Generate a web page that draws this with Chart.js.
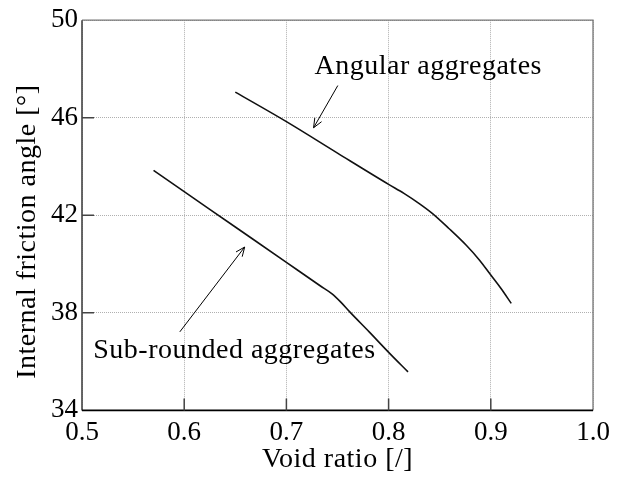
<!DOCTYPE html>
<html lang="en">
<head>
<meta charset="UTF-8">
<title>Internal friction angle vs void ratio</title>
<script src="https://cdn.jsdelivr.net/npm/chart.js"></script>
<style>
    body { margin: 0; padding: 0; background: #fff; }
    #frictionChart { display: block; }
</style>
</head>
<body>
<canvas id="frictionChart" width="617" height="481"></canvas>
<script>
    // values
    const angularVoid     = [0.650, 0.700, 0.750, 0.800, 0.815, 0.830, 0.843, 0.859, 0.876, 0.889, 0.900, 0.910, 0.920];
    const angularFriction = [47.05, 45.84, 44.55, 43.27, 42.90, 42.48, 42.07, 41.46, 40.77, 40.16, 39.55, 39.00, 38.39];

    const roundedVoid     = [0.570, 0.600, 0.650, 0.700, 0.733, 0.745, 0.753, 0.762, 0.781, 0.801, 0.819];
    const roundedFriction = [43.84, 42.97, 41.52, 40.07, 39.11, 38.77, 38.45, 38.04, 37.22, 36.34, 35.58];

    const xTicks = [0.5, 0.6, 0.7, 0.8, 0.9, 1.0];
    const yTicks = [34, 38, 42, 46, 50];

    // annotation labels: [text, x, y] and arrows: [fromX, fromY, toX, toY]
    const labels = [
        ['Angular aggregates', 0.7275, 47.80],
        ['Sub-rounded aggregates', 0.511, 36.14]
    ];
    const arrows = [
        [0.7503, 47.32, 0.7266, 45.59],
        [0.5957, 37.22, 0.6592, 40.70]
    ];

    const xTitle = 'Void ratio [/]';
    const yTitle = 'Internal friction angle [\u00b0]';

    const serif = '"Liberation Serif", "DejaVu Serif", serif';

    function toPoints(xs, ys) {
        return xs.map((x, i) => ({ x: x, y: ys[i] }));
    }

    const framePlugin = {
        id: 'frame',
        afterDraw(chart) {
            const ctx = chart.ctx;
            const a = chart.chartArea;
            const xs = chart.scales.x, ys = chart.scales.y;
            ctx.save();

            // frame: top/right light, left/bottom dark
            ctx.lineWidth = 1.3;
            ctx.strokeStyle = '#777';
            ctx.beginPath();
            ctx.moveTo(a.left, a.top); ctx.lineTo(a.right, a.top); ctx.lineTo(a.right, a.bottom);
            ctx.stroke();
            ctx.lineWidth = 1.6;
            ctx.strokeStyle = '#444';
            ctx.beginPath();
            ctx.moveTo(a.left, a.top); ctx.lineTo(a.left, a.bottom);
            ctx.stroke();
            ctx.strokeStyle = '#000';
            ctx.beginPath();
            ctx.moveTo(a.left, a.bottom); ctx.lineTo(a.right, a.bottom);
            ctx.stroke();

            // inward tick marks
            ctx.lineWidth = 1.5;
            ctx.strokeStyle = '#444';
            ctx.beginPath();
            xTicks.slice(1, -1).forEach(v => {
                const px = xs.getPixelForValue(v);
                ctx.moveTo(px, a.bottom); ctx.lineTo(px, a.bottom - 12);
            });
            yTicks.slice(1, -1).forEach(v => {
                const py = ys.getPixelForValue(v);
                ctx.moveTo(a.left, py); ctx.lineTo(a.left + 12, py);
            });
            ctx.stroke();

            ctx.fillStyle = '#000';
            ctx.font = '28px ' + serif;
            ctx.letterSpacing = '0.5px';
            ctx.textBaseline = 'alphabetic';

            // x axis title
            ctx.textAlign = 'center';
            ctx.fillText(xTitle, (a.left + a.right) / 2, 467);

            // y axis title
            ctx.translate(35, ys.getPixelForValue(41.33));
            ctx.rotate(-Math.PI / 2);
            ctx.fillText(yTitle, 0, 0);
            ctx.setTransform(1, 0, 0, 1, 0, 0);

            // annotation text
            ctx.textAlign = 'left';
            labels.forEach(l => {
                ctx.fillText(l[0], xs.getPixelForValue(l[1]), ys.getPixelForValue(l[2]));
            });

            // arrows with open heads
            ctx.lineWidth = 1;
            ctx.strokeStyle = '#000';
            arrows.forEach(ar => {
                const x1 = xs.getPixelForValue(ar[0]), y1 = ys.getPixelForValue(ar[1]);
                const x2 = xs.getPixelForValue(ar[2]), y2 = ys.getPixelForValue(ar[3]);
                const ang = Math.atan2(y2 - y1, x2 - x1);
                const head = 10, spread = 0.4;
                ctx.beginPath();
                ctx.moveTo(x1, y1); ctx.lineTo(x2, y2);
                ctx.moveTo(x2 - head * Math.cos(ang - spread), y2 - head * Math.sin(ang - spread));
                ctx.lineTo(x2, y2);
                ctx.lineTo(x2 - head * Math.cos(ang + spread), y2 - head * Math.sin(ang + spread));
                ctx.stroke();
            });
            ctx.restore();
        }
    };

    const ctx = document.getElementById('frictionChart').getContext('2d');
    new Chart(ctx, {
        type: 'line',
        data: {
            datasets: [{
                label: 'Angular aggregates',
                data: toPoints(angularVoid, angularFriction),
                borderColor: '#111',
                borderWidth: 1.6,
                pointRadius: 0,
                cubicInterpolationMode: 'monotone'
            }, {
                label: 'Sub-rounded aggregates',
                data: toPoints(roundedVoid, roundedFriction),
                borderColor: '#111',
                borderWidth: 1.6,
                pointRadius: 0,
                cubicInterpolationMode: 'monotone'
            }]
        },
        options: {
            responsive: false,
            animation: false,
            devicePixelRatio: 1,
            layout: { padding: { top: 19.6, right: 24, left: 0, bottom: 0 } },
            plugins: {
                legend: { display: false },
                tooltip: { enabled: false }
            },
            scales: {
                x: {
                    type: 'linear',
                    min: 0.5,
                    max: 1.0,
                    afterBuildTicks: s => { s.ticks = xTicks.map(v => ({ value: v })); },
                    afterFit: s => { s.height = 70.6; },
                    ticks: {
                        color: '#000',
                        padding: 6,
                        font: { family: serif, size: 27 },
                        callback: v => Number(v).toFixed(1)
                    },
                    grid: { color: '#b0b0b0', lineWidth: 1, drawTicks: false },
                    border: { display: false, dash: [1, 1] }
                },
                y: {
                    type: 'linear',
                    min: 34,
                    max: 50,
                    afterBuildTicks: s => { s.ticks = yTicks.map(v => ({ value: v })); },
                    afterFit: s => { s.width = 82; },
                    ticks: {
                        color: '#000',
                        padding: 4,
                        font: { family: serif, size: 27 }
                    },
                    grid: { color: '#b0b0b0', lineWidth: 1, drawTicks: false },
                    border: { display: false, dash: [1, 1] }
                }
            }
        },
        plugins: [framePlugin]
    });
</script>
</body>
</html>
